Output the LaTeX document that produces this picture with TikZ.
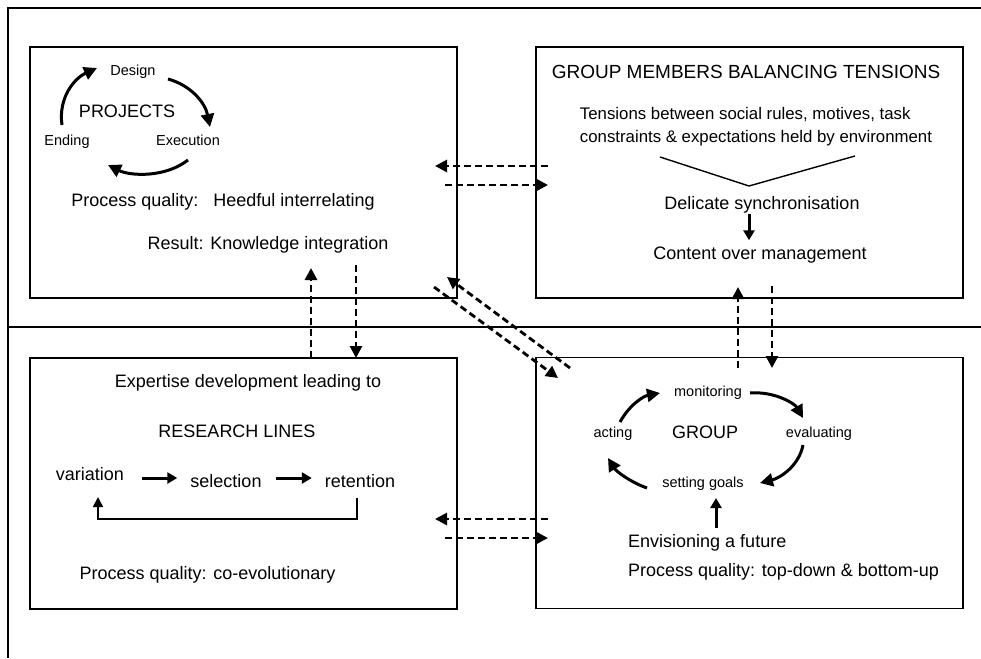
\documentclass[tikz,border=0pt]{standalone}
\usepackage{fontspec}
\setmainfont{Liberation Sans}
\usetikzlibrary{arrows.meta}
\begin{document}
\begin{tikzpicture}[x=1pt,y=-1pt,
  box/.style={draw,line width=1.6pt,inner sep=0pt,minimum width=427pt,minimum height=251pt},
  frame/.style={line width=1.4pt},
  txt/.style={inner sep=0pt,text height=13pt,text depth=4pt,font=\fontsize{18}{22}\selectfont},
  head/.style={inner sep=0pt,text height=13pt,text depth=4pt,font=\fontsize{19}{22}\selectfont},
  small/.style={inner sep=0pt,text height=10.5pt,text depth=3pt,font=\fontsize{14.5}{17}\selectfont},
  mid/.style={inner sep=0pt,align=left,font=\fontsize{16.8}{23}\selectfont},
  dasharrow/.style={dash pattern=on 7pt off 4pt,line width=2.8pt,-{Triangle[length=12pt,width=12pt]}},
  cyc/.style={line width=3pt,-{Triangle[length=13pt,width=13pt]}},
  solidarrow/.style={line width=3pt,-{Triangle[length=10pt,width=11pt]}},
  thinline/.style={line width=1.4pt},
  thinarrow/.style={line width=1.6pt,-{Triangle[length=10pt,width=10pt]}}
]
\useasboundingbox (0,0) rectangle (981,658);
% frame
\draw[frame] (981,8) -- (8,8) -- (8,658);
\draw[frame] (8,327) -- (981,327);
% boxes
\node[box] (A) at (243.5,172.5) {};
\node[box] (B) at (749.5,172.5) {};
\node[box] (C) at (243.5,483.5) {};
\node[box] (D) at (749.5,483) {};
% ---- Box A
\node[small] (design) at (133,72) {Design};
\node[txt] (projects) at (127,113) {PROJECTS};
\node[small] (ending) at (67,142) {Ending};
\node[small] (execution) at (188,142) {Execution};
\node[txt] (pqA) at (223,202) {Process quality:\ \ \ Heedful interrelating};
\node[txt] (result) at (268,245) {Result: Knowledge integration};
\coordinate (a1s) at (62,125); \coordinate (a1e) at (97,68);
\coordinate (a2s) at (168,79); \coordinate (a2e) at (210,127);
\coordinate (a3s) at (188,160); \coordinate (a3e) at (108,165);
\draw[cyc] (a1s) .. controls (58,97) and (75,78) .. (a1e);
\draw[cyc] (a2s) .. controls (190,85) and (205,102) .. (a2e);
\draw[cyc] (a3s) .. controls (165,178) and (130,176) .. (a3e);
% ---- Box B
\node[head] (gmbt) at (746,74) {GROUP MEMBERS BALANCING TENSIONS};
\node[mid] (tensions) at (756,127) {Tensions between social rules, motives, task\\constraints \& expectations held by environment};
\coordinate (vl) at (660,157); \coordinate (vb) at (749,186); \coordinate (vr) at (855,156);
\draw[thinline] (vl) -- (vb) -- (vr);
\node[txt] (delicate) at (762,205) {Delicate synchronisation};
\node[txt] (content) at (760,255) {Content over management};
\draw[solidarrow,shorten >=6pt] (delicate.south -| vb) -- (content.north -| vb);
% ---- Box C
\node[txt] (expertise) at (248,383) {Expertise development leading to};
\node[txt] (rlines) at (237,433) {RESEARCH LINES};
\node[txt] (variation) at (90,476) {variation};
\node[txt] (selection) at (226,483) {selection};
\node[txt] (retention) at (360,483) {retention};
\coordinate (ar) at (0,478);
\draw[solidarrow,shorten <=18pt,shorten >=13pt] (variation.east |- ar) -- (selection.west |- ar);
\draw[solidarrow,shorten <=14pt,shorten >=13pt] (selection.east |- ar) -- (retention.west |- ar);
\coordinate (fb0) at (357,498); \coordinate (fb1) at (357,519);
\coordinate (fb2) at (98,519); \coordinate (fb3) at (98,497);
\draw[thinarrow] (fb0) -- (fb1) -- (fb2) -- (fb3);
\node[txt] (pqC) at (207.5,575) {Process quality: co-evolutionary};
% ---- Box D
\node[small] (monitoring) at (708,393) {monitoring};
\node[txt] (group) at (705,434) {GROUP};
\node[small] (acting) at (613,434) {acting};
\node[small] (evaluating) at (819,434) {evaluating};
\node[small] (setting) at (703,484) {setting goals};
\coordinate (d1s) at (620,422); \coordinate (d1e) at (660,393);
\coordinate (d2s) at (750,393); \coordinate (d2e) at (803,418);
\coordinate (d3s) at (803,445); \coordinate (d3e) at (760,483);
\coordinate (d4s) at (647,488); \coordinate (d4e) at (608,458);
\draw[cyc] (d1s) .. controls (630,404) and (644,396) .. (d1e);
\draw[cyc] (d2s) .. controls (775,391) and (795,404) .. (d2e);
\draw[cyc] (d3s) .. controls (799,466) and (780,478) .. (d3e);
\draw[cyc] (d4s) .. controls (630,482) and (616,471) .. (d4e);
\node[txt,anchor=west] (envision) at (628,543) {Envisioning a future};
\node[txt,anchor=west] (pqD) at (628,572) {Process quality: top-down \& bottom-up};
\coordinate (ea) at (716,528); \coordinate (eb) at (716,498);
\draw[solidarrow] (ea) -- (eb);
% ---- dashed connectors
\coordinate (h1s) at (548,166); \coordinate (h1e) at (435,166);
\coordinate (h2s) at (445,185); \coordinate (h2e) at (548,185);
\draw[dasharrow] (h1s) -- (h1e);
\draw[dasharrow] (h2s) -- (h2e);
\coordinate (h3s) at (548,519); \coordinate (h3e) at (435,519);
\coordinate (h4s) at (445,538); \coordinate (h4e) at (548,538);
\draw[dasharrow] (h3s) -- (h3e);
\draw[dasharrow] (h4s) -- (h4e);
\coordinate (v1s) at (311,358); \coordinate (v1e) at (311,268);
\coordinate (v2s) at (356,265); \coordinate (v2e) at (356,358);
\draw[dasharrow] (v1s) -- (v1e);
\draw[dasharrow] (v2s) -- (v2e);
\coordinate (v3s) at (738,368); \coordinate (v3e) at (738,287);
\coordinate (v4s) at (772,286); \coordinate (v4e) at (772,368);
\draw[dasharrow] (v3s) -- (v3e);
\draw[dasharrow] (v4s) -- (v4e);
\coordinate (g1s) at (570,368); \coordinate (g1e) at (447,277);
\coordinate (g2s) at (434,287); \coordinate (g2e) at (558,378);
\draw[dasharrow] (g1s) -- (g1e);
\draw[dasharrow] (g2s) -- (g2e);
\end{tikzpicture}
\end{document}
